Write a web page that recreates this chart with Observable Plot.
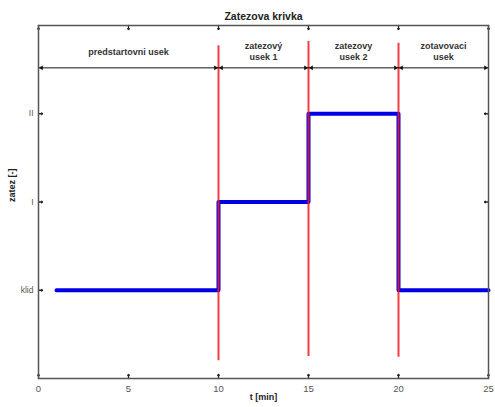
<!DOCTYPE html>
<html>
<head>
<meta charset="utf-8">
<script src="https://cdn.jsdelivr.net/npm/d3@7"></script>
<script src="https://cdn.jsdelivr.net/npm/@observablehq/plot@0.6"></script>
<style>
  html, body { margin: 0; padding: 0; background: #fff; }
  svg { font-family: "Liberation Sans", Arial, sans-serif; }
</style>
</head>
<body>
<div id="chart"></div>
<script>
// Data
const title = "Zatezova krivka";
const xLabel = "t [min]";
const yLabel = "zatez [-]";
const xTicks = [0, 5, 10, 15, 20, 25];
const yTicks = [0, 1, 2];
const yTickLabels = ["klid", "I", "II"];

// Load curve (step-after)
const loadT = [1, 10, 15, 20, 25];
const loadLevel = [0, 1, 2, 0, 0];

// Phase boundaries (red lines)
const boundaryT = [10, 15, 20];
const boundaryTop = [2.77, 2.82, 2.8];
const boundaryBottom = [-0.8, -0.75, -0.76];

// Phases
const phaseStart = [0, 10, 15, 20];
const phaseEnd = [10, 15, 20, 25];
const phaseLabels = ["predstartovni usek", "zatezový\nusek 1", "zatezovy\nusek 2", "zotavovaci\nusek"];
const arrowLevel = 2.52;
const labelLevel = 2.71;

const load = loadT.map((t, i) => ({t, level: loadLevel[i]}));
const boundaries = boundaryT.map((t, i) => ({t, y1: boundaryBottom[i], y2: boundaryTop[i]}));
const phases = phaseStart.map((s, i) => ({s, e: phaseEnd[i], mid: (s + phaseEnd[i]) / 2, label: phaseLabels[i]}));

const frameColor = "#555";
const tickTextColor = "#555";

const chart = Plot.plot({
  width: 495,
  height: 407,
  marginLeft: 38,
  marginRight: 7,
  marginTop: 25,
  marginBottom: 29,
  style: {fontFamily: "'Liberation Sans', Arial, sans-serif", fontSize: "9px", background: "white", color: "#555"},
  x: {domain: [0, 25]},
  y: {domain: [-1, 3]},
  marks: [
    // tick labels
    Plot.axisX(xTicks, {anchor: "bottom", tickSize: 0, tickPadding: 7, fill: tickTextColor, fontSize: 9.5, label: null}),
    Plot.axisY(yTicks, {anchor: "left", tickSize: 0, tickPadding: 5, fill: tickTextColor, fontSize: 8.5, tickFormat: d => yTickLabels[d], label: null}),
    // inward tick marks
    Plot.vector(xTicks, {x: d => d, frameAnchor: "bottom", length: 4, anchor: "start", rotate: 0, stroke: "#222", strokeWidth: 1.3}),
    Plot.vector(xTicks, {x: d => d, frameAnchor: "top", length: 4, anchor: "start", rotate: 180, stroke: "#222", strokeWidth: 1.3}),
    Plot.vector(yTicks, {y: d => d, frameAnchor: "left", length: 4, anchor: "start", rotate: 90, stroke: "#222", strokeWidth: 1.3}),
    Plot.vector(yTicks, {y: d => d, frameAnchor: "right", length: 4, anchor: "start", rotate: -90, stroke: "#222", strokeWidth: 1.3}),
    // blue load curve
    Plot.line(load, {x: "t", y: "level", curve: "step-after", stroke: "#0000e6", strokeWidth: 4}),
    // red boundaries
    Plot.ruleX(boundaries, {x: "t", y1: "y1", y2: "y2", stroke: "#ee1c24", strokeWidth: 2, strokeOpacity: 0.85}),
    // arrows
    Plot.ruleY(phases, {x1: "s", x2: "e", y: () => arrowLevel, stroke: "#111", strokeWidth: 1}),
    Plot.dot(phases, {x: "s", y: () => arrowLevel, symbol: "triangle2", r: 2.2, rotate: -90, fill: "#111", dx: 3}),
    Plot.dot(phases, {x: "e", y: () => arrowLevel, symbol: "triangle2", r: 2.2, rotate: 90, fill: "#111", dx: -3}),
    // phase labels
    Plot.text(phases, {x: "mid", y: () => labelLevel, text: "label", fontWeight: "bold", fontSize: 9, fill: "#333", lineHeight: 1.25}),
    // frame
    Plot.frame({stroke: frameColor, strokeWidth: 1.5}),
    // title and axis labels
    Plot.text([title], {frameAnchor: "top", dy: -13, text: d => d, fontWeight: "bold", fontSize: 10.5, fill: "#222"}),
    Plot.text([xLabel], {frameAnchor: "bottom", dy: 21, text: d => d, fontWeight: "bold", fontSize: 9, fill: "#222"}),
    Plot.text([yLabel], {frameAnchor: "left", dx: -26, rotate: -90, text: d => d, fontWeight: "bold", fontSize: 9, fill: "#222"})
  ]
});
document.getElementById("chart").appendChild(chart);
</script>
</body>
</html>
